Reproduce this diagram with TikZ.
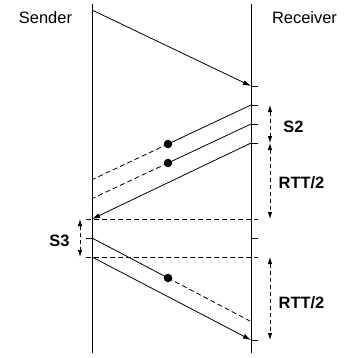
\documentclass[tikz,border=0pt]{standalone}
\usepackage{fontspec}
\setmainfont{Liberation Sans}
\usetikzlibrary{arrows.meta}
\begin{document}
\begin{tikzpicture}[x=1bp,y=-1bp,
  ln/.style={line width=0.8bp, black},
  dsh/.style={ln, dash pattern=on 5bp off 3bp},
  msg/.style={ln, -{Latex[length=8bp,width=5bp]}},
  dim/.style={ln, dash pattern=on 4bp off 3bp, {Latex[length=7bp,width=4.5bp]}-{Latex[length=7bp,width=4.5bp]}},
  lbl/.style={anchor=base, inner sep=0pt, font=\fontsize{16.5}{19}\selectfont},
  blbl/.style={lbl, font=\fontsize{16.5}{19}\selectfont\bfseries},
  dot/.style={circle, fill=black, inner sep=0pt, minimum size=8.5bp}
]
\useasboundingbox (0,0) rectangle (344,358);
% life lines
\coordinate (lt) at (92,4);   \coordinate (lb) at (92,353);
\coordinate (rt) at (251,4);  \coordinate (rb) at (251,353);
\draw[ln] (lt) -- (lb);
\draw[ln] (rt) -- (rb);
\node[lbl] (snd) at (45.5,23.3) {Sender};
\node[lbl] (rcv) at (304.5,23.3) {Receiver};
% receiver ticks
\foreach \n/\y in {a/86,b/105,c/124,d/143,e/238,f/340}{
  \coordinate (r\n) at (251,\y);
  \coordinate (r\n e) at (258,\y);
  \draw[ln] (r\n) -- (r\n e);
}
% first message
\coordinate (s0) at (92,10);
\draw[msg] (s0) -- (ra);
% acks from receiver
\node[dot] (d1) at (168,144) {};
\node[dot] (d2) at (168,163) {};
\coordinate (l1) at (92,179.7);
\coordinate (l2) at (92,198.6);
\coordinate (l3) at (92,219);
\draw[ln] (rb) -- (d1.center);
\draw[dsh] (d1.center) -- (l1);
\draw[ln] (rc) -- (d2.center);
\draw[dsh] (d2.center) -- (l2);
\draw[msg] (rd) -- (l3);
% dashed horizontals
\coordinate (h1a) at (86,219); \coordinate (h1b) at (258,219);
\coordinate (h2a) at (86,257); \coordinate (h2b) at (258,257);
\draw[dsh] (h1a) -- (h1b);
\draw[dsh] (h2a) -- (h2b);
% sender tick and new messages
\coordinate (lm) at (92,238); \coordinate (lmt) at (86,238);
\draw[ln] (lmt) -- (lm);
\coordinate (ln2) at (92,257);
\node[dot] (d3) at (168,278) {};
\coordinate (r3) at (250,321);
\draw[ln] (lm) -- (d3.center);
\draw[dsh] (d3.center) -- (r3);
\draw[msg] (ln2) -- (rf);
% dimension arrows
\coordinate (s2a) at (270,105); \coordinate (s2b) at (270,143);
\coordinate (t1a) at (270,143); \coordinate (t1b) at (270,219);
\coordinate (s3a) at (80,219);  \coordinate (s3b) at (80,257);
\coordinate (t2a) at (270,257); \coordinate (t2b) at (270,340);
\draw[dim] (s2a) -- (s2b);
\draw[dim] (t1a) -- (t1b);
\draw[dim] (s3a) -- (s3b);
\draw[dim] (t2a) -- (t2b);
\node[blbl] (ls2) at (293.5,132) {S2};
\node[blbl] (lt1) at (301.5,188) {RTT/2};
\node[blbl] (ls3) at (59.5,246) {S3};
\node[blbl] (lt2) at (301.5,308) {RTT/2};
\end{tikzpicture}
\end{document}
